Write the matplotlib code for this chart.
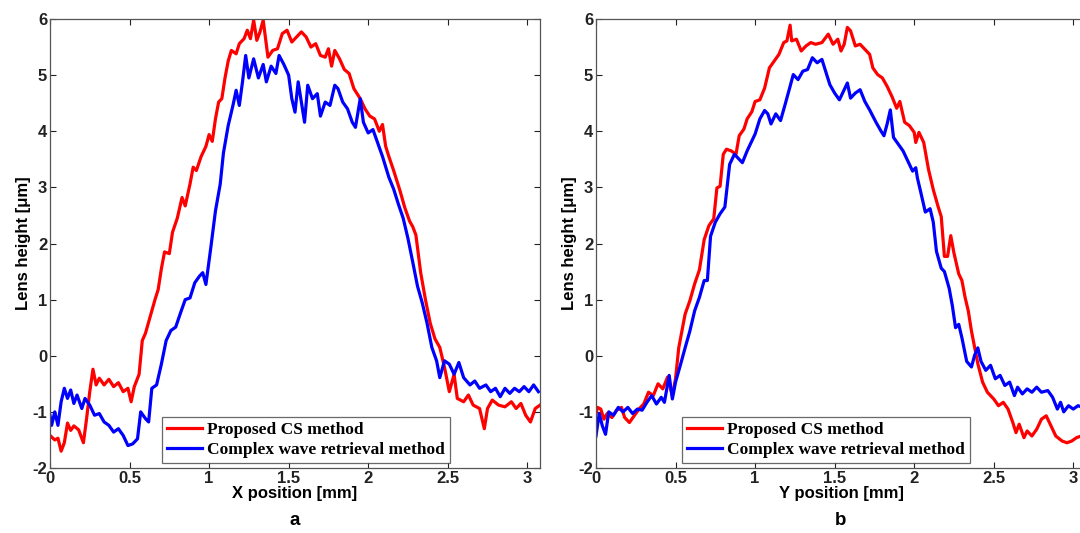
import matplotlib.pyplot as plt

# ---- panel a: X profile ----
xa_cs = [0.00, 0.03, 0.05, 0.07, 0.09, 0.11, 0.13, 0.15, 0.18, 0.21, 0.23, 0.25, 0.27, 0.29, 0.31,
         0.34, 0.37, 0.40, 0.43, 0.46, 0.49, 0.51, 0.53, 0.56, 0.58, 0.60, 0.63, 0.66, 0.68, 0.70,
         0.72, 0.75, 0.77, 0.80, 0.83, 0.85, 0.88, 0.90, 0.92, 0.95, 0.98, 1.00, 1.02, 1.04, 1.06,
         1.08, 1.10, 1.12, 1.14, 1.17, 1.19, 1.22, 1.24, 1.26, 1.28, 1.30, 1.32, 1.34, 1.37, 1.40,
         1.43, 1.46, 1.49, 1.52, 1.55, 1.58, 1.61, 1.64, 1.67, 1.70, 1.73, 1.75, 1.77, 1.79, 1.82,
         1.85, 1.88, 1.91, 1.95, 1.98, 2.01, 2.04, 2.07, 2.09, 2.11, 2.13, 2.16, 2.20, 2.23, 2.26,
         2.28, 2.30, 2.33, 2.36, 2.39, 2.42, 2.45, 2.48, 2.51, 2.54, 2.56, 2.60, 2.63, 2.66, 2.70,
         2.73, 2.75, 2.78, 2.82, 2.86, 2.90, 2.93, 2.96, 2.99, 3.02, 3.05, 3.08]
ya_cs = [-1.42, -1.50, -1.47, -1.70, -1.55, -1.20, -1.33, -1.25, -1.32, -1.55, -1.12, -0.64, -0.24, -0.52, -0.40,
         -0.52, -0.42, -0.55, -0.48, -0.64, -0.58, -0.82, -0.55, -0.33, 0.27, 0.40, 0.70, 1.00, 1.18, 1.55,
         1.85, 1.82, 2.20, 2.45, 2.82, 2.67, 3.06, 3.36, 3.30, 3.55, 3.73, 3.94, 3.82, 4.22, 4.52,
         4.58, 4.95, 5.25, 5.44, 5.38, 5.56, 5.65, 5.80, 5.65, 5.98, 5.62, 5.77, 5.98, 5.32, 5.44,
         5.47, 5.74, 5.80, 5.59, 5.68, 5.77, 5.68, 5.50, 5.56, 5.35, 5.32, 5.47, 5.16, 5.44, 5.29,
         5.10, 5.03, 4.76, 4.58, 4.40, 4.27, 4.22, 4.00, 4.12, 3.73, 3.55, 3.30, 2.94, 2.64, 2.40,
         2.30, 2.15, 1.48, 1.00, 0.58, 0.30, 0.15, -0.21, -0.64, -0.33, -0.76, -0.82, -0.70, -0.88, -0.94,
         -1.30, -0.94, -0.79, -0.88, -0.91, -0.82, -0.94, -0.85, -1.06, -1.18, -0.94, -0.88]

xa_cw = [0.00, 0.01, 0.03, 0.05, 0.07, 0.09, 0.11, 0.13, 0.15, 0.17, 0.20, 0.22, 0.25, 0.28, 0.31,
         0.34, 0.37, 0.40, 0.43, 0.46, 0.49, 0.52, 0.55, 0.57, 0.60, 0.62, 0.64, 0.67, 0.70, 0.73,
         0.76, 0.79, 0.82, 0.85, 0.88, 0.91, 0.94, 0.96, 0.98, 1.01, 1.04, 1.07, 1.09, 1.12, 1.15,
         1.17, 1.19, 1.21, 1.23, 1.25, 1.28, 1.31, 1.34, 1.36, 1.39, 1.42, 1.44, 1.47, 1.50, 1.52,
         1.54, 1.56, 1.58, 1.60, 1.62, 1.65, 1.68, 1.70, 1.73, 1.76, 1.79, 1.81, 1.84, 1.87, 1.90,
         1.92, 1.95, 1.97, 2.00, 2.03, 2.06, 2.09, 2.13, 2.16, 2.19, 2.22, 2.25, 2.28, 2.31, 2.34,
         2.37, 2.40, 2.43, 2.45, 2.48, 2.51, 2.54, 2.57, 2.60, 2.64, 2.67, 2.70, 2.74, 2.77, 2.80,
         2.83, 2.86, 2.89, 2.92, 2.95, 2.98, 3.01, 3.04, 3.07]
ya_cw = [-1.06, -1.24, -1.00, -1.24, -0.82, -0.58, -0.76, -0.61, -0.85, -0.70, -0.94, -0.76, -0.88, -1.06, -1.03,
         -1.18, -1.24, -1.36, -1.30, -1.42, -1.60, -1.57, -1.48, -1.00, -1.12, -1.18, -0.58, -0.52, -0.15, 0.27,
         0.45, 0.51, 0.76, 1.00, 1.03, 1.30, 1.42, 1.48, 1.27, 1.91, 2.58, 3.06, 3.61, 4.10, 4.46,
         4.73, 4.46, 4.88, 5.35, 4.95, 5.29, 4.95, 5.19, 4.88, 5.16, 5.03, 5.35, 5.19, 5.00, 4.58,
         4.34, 4.88, 4.52, 4.16, 4.82, 4.58, 4.67, 4.27, 4.52, 4.46, 4.82, 4.76, 4.52, 4.40, 4.16,
         4.07, 4.58, 4.16, 3.97, 4.03, 3.79, 3.55, 3.18, 2.97, 2.70, 2.45, 2.09, 1.67, 1.24, 0.94,
         0.58, 0.15, -0.09, -0.39, -0.09, -0.15, -0.33, -0.12, -0.39, -0.52, -0.45, -0.58, -0.52, -0.64, -0.58,
         -0.73, -0.58, -0.67, -0.58, -0.64, -0.55, -0.64, -0.52, -0.64]

# ---- panel b: Y profile ----
xb_cs = [0.00, 0.01, 0.03, 0.05, 0.07, 0.10, 0.13, 0.16, 0.18, 0.21, 0.24, 0.27, 0.30, 0.33, 0.36,
         0.39, 0.42, 0.45, 0.48, 0.50, 0.52, 0.54, 0.56, 0.59, 0.62, 0.65, 0.68, 0.71, 0.74, 0.76,
         0.78, 0.80, 0.82, 0.85, 0.88, 0.90, 0.93, 0.95, 0.98, 1.00, 1.03, 1.06, 1.09, 1.12, 1.15,
         1.18, 1.20, 1.22, 1.23, 1.26, 1.29, 1.32, 1.35, 1.38, 1.42, 1.46, 1.49, 1.52, 1.54, 1.56,
         1.58, 1.60, 1.63, 1.66, 1.69, 1.72, 1.74, 1.77, 1.80, 1.83, 1.86, 1.89, 1.91, 1.94, 1.97,
         2.00, 2.01, 2.03, 2.06, 2.09, 2.12, 2.15, 2.17, 2.19, 2.21, 2.23, 2.25, 2.28, 2.30, 2.32,
         2.34, 2.36, 2.38, 2.40, 2.43, 2.46, 2.50, 2.53, 2.56, 2.59, 2.62, 2.64, 2.66, 2.69, 2.71,
         2.74, 2.77, 2.80, 2.83, 2.86, 2.89, 2.93, 2.96, 2.99, 3.02, 3.05, 3.08, 3.10]
yb_cs = [-1.03, -0.92, -0.95, -1.13, -1.03, -1.10, -0.97, -0.92, -1.10, -1.19, -1.07, -0.95, -0.86, -0.65, -0.71,
         -0.50, -0.59, -0.38, -0.71, -0.41, 0.14, 0.44, 0.74, 0.98, 1.28, 1.53, 2.07, 2.32, 2.44, 2.99,
         3.02, 3.59, 3.68, 3.65, 3.59, 3.92, 4.04, 4.22, 4.35, 4.53, 4.56, 4.77, 5.13, 5.25, 5.37,
         5.58, 5.61, 5.89, 5.61, 5.64, 5.43, 5.52, 5.58, 5.55, 5.58, 5.73, 5.55, 5.64, 5.43, 5.55,
         5.85, 5.79, 5.52, 5.55, 5.46, 5.37, 5.13, 5.01, 4.95, 4.80, 4.62, 4.41, 4.53, 4.16, 4.10,
         3.98, 3.80, 3.98, 3.80, 3.32, 2.96, 2.66, 2.48, 1.77, 1.77, 2.14, 1.83, 1.46, 1.34, 1.04,
         0.80, 0.44, 0.15, -0.14, -0.47, -0.65, -0.77, -0.89, -0.83, -0.95, -1.19, -1.37, -1.22, -1.46, -1.34,
         -1.43, -1.31, -1.13, -1.07, -1.25, -1.43, -1.52, -1.55, -1.52, -1.46, -1.43, -1.37, -1.40]

xb_cw = [0.00, 0.02, 0.04, 0.06, 0.08, 0.11, 0.14, 0.17, 0.20, 0.23, 0.26, 0.29, 0.32, 0.35, 0.38,
         0.41, 0.43, 0.46, 0.48, 0.50, 0.53, 0.56, 0.59, 0.62, 0.65, 0.68, 0.70, 0.72, 0.75, 0.78,
         0.81, 0.84, 0.87, 0.89, 0.92, 0.95, 0.98, 1.00, 1.03, 1.06, 1.08, 1.10, 1.13, 1.16, 1.19,
         1.22, 1.24, 1.27, 1.30, 1.33, 1.36, 1.39, 1.42, 1.44, 1.47, 1.50, 1.53, 1.56, 1.58, 1.60,
         1.63, 1.66, 1.69, 1.72, 1.76, 1.79, 1.81, 1.83, 1.85, 1.87, 1.90, 1.93, 1.96, 1.99, 2.01,
         2.02, 2.04, 2.07, 2.10, 2.12, 2.14, 2.17, 2.19, 2.22, 2.24, 2.26, 2.28, 2.30, 2.33, 2.36,
         2.38, 2.40, 2.42, 2.45, 2.48, 2.51, 2.54, 2.57, 2.60, 2.63, 2.65, 2.68, 2.71, 2.74, 2.77,
         2.80, 2.84, 2.87, 2.90, 2.92, 2.94, 2.97, 3.00, 3.03, 3.06, 3.10]
yb_cw = [-1.43, -1.03, -1.25, -1.40, -1.00, -1.06, -0.92, -1.00, -0.92, -1.03, -0.95, -0.97, -0.83, -0.71, -0.86,
         -0.74, -0.83, -0.35, -0.77, -0.47, -0.17, 0.14, 0.44, 0.80, 1.04, 1.34, 1.34, 2.13, 2.38, 2.53,
         2.65, 3.41, 3.59, 3.53, 3.44, 3.65, 3.83, 3.95, 4.22, 4.37, 4.31, 4.13, 4.31, 4.19, 4.49,
         4.80, 5.01, 4.92, 5.07, 5.10, 5.31, 5.22, 5.28, 5.10, 4.83, 4.68, 4.56, 4.74, 4.86, 4.59,
         4.68, 4.74, 4.53, 4.38, 4.16, 4.01, 3.92, 4.13, 4.38, 3.89, 3.77, 3.65, 3.47, 3.29, 3.35,
         3.17, 2.93, 2.56, 2.62, 2.38, 1.86, 1.56, 1.50, 1.20, 0.89, 0.50, 0.56, 0.32, -0.10, -0.20,
         0.01, 0.14, -0.10, -0.26, -0.17, -0.41, -0.35, -0.53, -0.47, -0.71, -0.56, -0.68, -0.59, -0.65, -0.56,
         -0.65, -0.62, -0.74, -0.95, -0.83, -1.00, -0.89, -0.95, -0.89, -0.92, -0.95]

legend_labels = ["Proposed CS method", "Complex wave retrieval method"]
x_ticks = [0, 0.5, 1, 1.5, 2, 2.5, 3]
x_tick_labels = ["0", "0.5", "1", "1.5", "2", "2.5", "3"]
y_ticks = [-2, -1, 0, 1, 2, 3, 4, 5, 6]

plt.rcParams['font.family'] = ['Liberation Sans', 'DejaVu Sans']
plt.rcParams['axes.unicode_minus'] = False

fig = plt.figure(figsize=(10.8, 5.33), dpi=100)
ax_a = fig.add_axes([50 / 1080, 65 / 533, 490 / 1080, 449 / 533])
ax_b = fig.add_axes([596 / 1080, 65 / 533, 490 / 1080, 449 / 533])

panels = [
    (ax_a, xa_cs, ya_cs, xa_cw, ya_cw, "X position [mm]", "a", 0.229),
    (ax_b, xb_cs, yb_cs, xb_cw, yb_cw, "Y position [mm]", "b", 0.176),
]

for ax, x1, y1, x2, y2, xlabel, tag, leg_x in panels:
    ax.plot(x1, y1, color="#ff0000", lw=2.3, label=legend_labels[0])
    ax.plot(x2, y2, color="#0000ff", lw=2.3, label=legend_labels[1])
    ax.set_xlim(0, 3.08)
    ax.set_ylim(-2, 6)
    ax.set_xticks(x_ticks)
    ax.set_xticklabels(x_tick_labels)
    ax.set_yticks(y_ticks)
    ax.tick_params(direction="in", top=True, right=True, length=4, width=0.8,
                   colors="#222222", labelsize=12, pad=2)
    for lab in ax.get_xticklabels() + ax.get_yticklabels():
        lab.set_fontweight("bold")
    for s in ax.spines.values():
        s.set_color("#555555")
        s.set_linewidth(0.9)
    ax.set_xlabel(xlabel, fontsize=12, fontweight="bold", labelpad=0)
    ax.set_ylabel("Lens height [\u03bcm]", fontsize=12, fontweight="bold", labelpad=1)
    leg = ax.legend(loc="lower left", bbox_to_anchor=(leg_x, 0.011),
                    prop={"family": "Liberation Serif", "weight": "bold", "size": 12.5},
                    frameon=True, fancybox=False, edgecolor="#444444",
                    handlelength=2.0, handletextpad=0.3, borderpad=0.3,
                    labelspacing=0.2, borderaxespad=0)
    leg.get_frame().set_linewidth(0.9)
    ax.text(0.5, -0.128, tag, transform=ax.transAxes, ha="center", va="baseline",
            fontsize=13.5, fontweight="bold")

fig.savefig("out.png", dpi=100)
